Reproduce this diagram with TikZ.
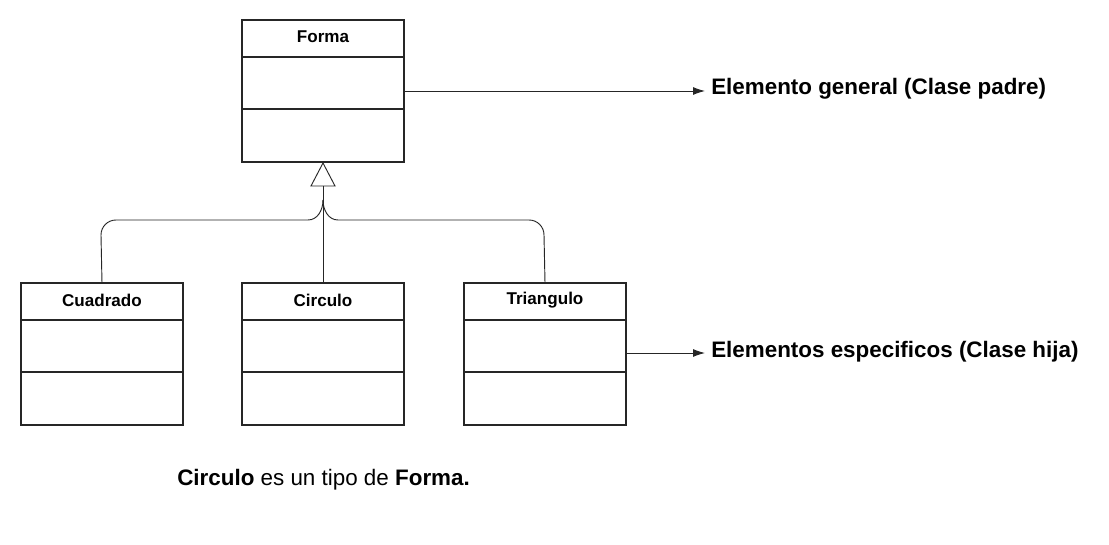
\documentclass[tikz,border=0pt]{standalone}
\usepackage{fontspec}
\setmainfont{Liberation Sans}
\usetikzlibrary{arrows.meta}
\begin{document}
\begin{tikzpicture}[x=0.75pt,y=-0.75pt,
  box/.style={draw=black!85,line width=1.2pt},
  ln/.style={draw=black!85,line width=0.7pt},
  hd/.style={font=\bfseries\fontsize{12.8}{14}\selectfont,anchor=center},
  lbl/.style={font=\bfseries\fontsize{16.8}{19}\selectfont,anchor=west,inner sep=0pt},
  arr/.style={ln,-{Latex[length=9pt,width=6pt]}}]
\useasboundingbox (0,0) rectangle (1109,545);
\newcommand{\umlbox}[4]{%
  \draw[box] (#1,#2) rectangle (#1+162,#2+142);
  \draw[box] (#1,#2+37) -- (#1+162,#2+37);
  \draw[box] (#1,#2+89) -- (#1+162,#2+89);
  \node[hd] (#3) at (#1+81,#2+17) {#4};
  \coordinate (#3-top) at (#1+81,#2);}
\umlbox{242}{20}{forma}{Forma}
\umlbox{21}{283}{cuad}{Cuadrado}
\umlbox{242}{283}{circ}{Circulo}
\umlbox{464}{283}{tri}{Triangulo}
\draw[ln,fill=white] (323,163) -- (335,186) -- (311,186) -- cycle;
\draw[ln] (323,186) -- (circ-top);
\draw[ln] (323,200) to[out=-90,in=0] (308,220) -- (116,220) to[out=180,in=90] (101,235) -- (cuad-top);
\draw[ln] (323,200) to[out=-90,in=180] (338,220) -- (529,220) to[out=0,in=90] (544,235) -- (tri-top);
\coordinate (a1) at (404,91);
\coordinate (e1) at (705,91);
\node[lbl] (l1) at (711,89) {Elemento general (Clase padre)};
\draw[arr] (a1) -- (e1);
\coordinate (a2) at (625,353);
\coordinate (e2) at (705,353);
\node[lbl] (l2) at (711,352) {Elementos especificos (Clase hija)};
\draw[arr] (a2) -- (e2);
\node[font=\fontsize{16.8}{19}\selectfont,anchor=west,inner sep=0pt] (cap) at (177,480) {\textbf{Circulo} es un tipo de \textbf{Forma.}};
\end{tikzpicture}
\end{document}
